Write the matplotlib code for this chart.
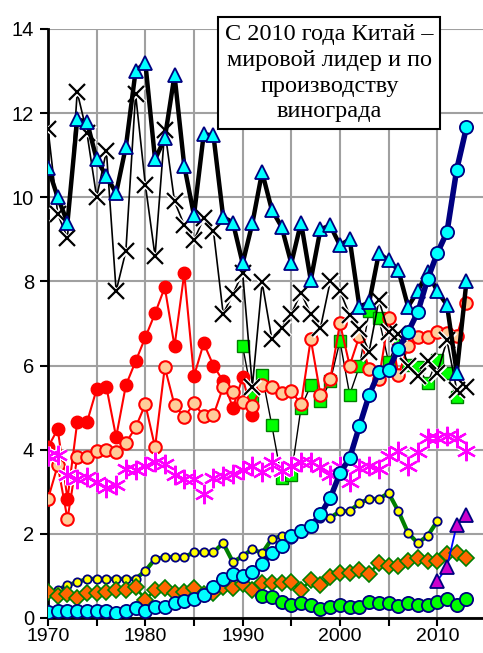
import matplotlib
matplotlib.use("Agg")
import matplotlib.pyplot as plt
from matplotlib.ticker import MultipleLocator

years_all = list(range(1970, 2014))

italy = [10.7, 10.0, 9.4, 11.85, 11.8, 10.9, 10.5, 10.1, 11.2, 13.0,
         13.2, 10.9, 11.4, 12.9, 10.75, 9.57, 11.5, 11.47, 9.53, 9.4,
         8.43, 9.38, 10.6, 9.7, 9.3, 8.43, 9.4, 8.03, 9.24, 9.33,
         8.86, 9.0, 7.4, 7.5, 8.67, 8.5, 8.27, 7.4, 7.77, 8.22,
         7.77, 7.44, 5.83, 8.0]

france = [11.63, 9.6, 9.03, 12.5, 11.53, 10.0, 11.1, 7.77, 8.72, 12.45,
          10.3, 8.6, 11.6, 9.9, 9.34, 8.98, 9.5, 9.2, 7.23, 7.7,
          8.2, 5.5, 7.98, 6.63, 6.9, 7.23, 7.73, 7.23, 6.9, 8.0,
          7.77, 7.2, 6.87, 6.33, 7.55, 6.8, 6.75, 6.0, 5.76, 6.1,
          5.83, 6.6, 5.42, 5.5]

china = [0.14, 0.17, 0.17, 0.17, 0.17, 0.17, 0.17, 0.12, 0.17, 0.24,
         0.17, 0.26, 0.26, 0.36, 0.4, 0.45, 0.55, 0.74, 0.93, 1.05,
         1.0, 1.09, 1.28, 1.54, 1.71, 1.95, 2.07, 2.18, 2.47, 2.85,
         3.44, 3.8, 4.56, 5.3, 5.84, 5.9, 6.4, 6.8, 7.27, 8.05,
         8.67, 9.17, 10.66, 11.66]

years_ussr = list(range(1970, 1992))
ussr = [4.06, 4.49, 2.83, 4.65, 4.65, 5.44, 5.49, 4.3, 5.53, 6.1,
        6.67, 7.24, 7.86, 6.46, 8.19, 5.75, 6.53, 6.0, 5.63, 5.0,
        5.72, 4.82]

usa = [2.83, 3.63, 2.35, 3.82, 3.82, 3.97, 4.0, 3.94, 4.16, 4.53,
       5.08, 4.06, 5.96, 5.06, 4.77, 5.1, 4.8, 4.82, 5.49, 5.37,
       5.13, 5.04, 5.53, 5.5, 5.35, 5.39, 5.08, 6.63, 5.3, 5.67,
       7.0, 6.0, 6.7, 5.91, 5.67, 7.13, 5.77, 6.46, 6.67, 6.67,
       6.79, 6.77, 6.7, 7.48]

years_spain = list(range(1990, 2013))
spain = [6.46, 5.25, 5.77, 4.58, 3.32, 3.41, 5.0, 5.53, 5.15, 5.63,
         6.58, 5.31, 5.98, 7.29, 7.12, 6.08, 6.63, 6.02, 5.97, 5.59,
         6.14, 5.83, 5.25]

turkey = [3.85, 3.87, 3.4, 3.3, 3.35, 3.23, 3.09, 3.16, 3.54, 3.52,
          3.61, 3.7, 3.66, 3.4, 3.3, 3.3, 2.95, 3.33, 3.37, 3.42,
          3.52, 3.61, 3.46, 3.7, 3.49, 3.61, 3.7, 3.7, 3.59, 3.4,
          3.61, 3.23, 3.56, 3.61, 3.54, 3.85, 3.97, 3.61, 3.94, 4.28,
          4.28, 4.32, 4.28, 3.97]

years_iran = list(range(1970, 2011))
iran = [0.6, 0.67, 0.78, 0.85, 0.93, 0.93, 0.93, 0.93, 0.93, 0.93,
        1.12, 1.4, 1.45, 1.45, 1.45, 1.56, 1.56, 1.56, 1.78, 1.33,
        1.47, 1.64, 1.54, 1.88, 1.95, 1.88, 2.02, 2.19, 2.38, 2.38,
        2.54, 2.54, 2.73, 2.83, 2.83, 2.97, 2.54, 2.02, 1.78, 1.95,
        2.3]

years_ukr = list(range(1992, 2014))
ukraine = [0.52, 0.5, 0.38, 0.31, 0.36, 0.31, 0.21, 0.26, 0.31, 0.26,
           0.26, 0.38, 0.36, 0.36, 0.28, 0.36, 0.31, 0.31, 0.38, 0.45,
           0.31, 0.45]

chile = [0.62, 0.52, 0.57, 0.47, 0.59, 0.59, 0.62, 0.67, 0.67, 0.74,
         0.43, 0.67, 0.71, 0.59, 0.62, 0.71, 0.57, 0.59, 0.74, 0.72,
         0.82, 0.67, 0.83, 0.83, 0.83, 0.86, 0.67, 0.9, 0.78, 0.97,
         1.07, 1.07, 1.14, 1.05, 1.31, 1.24, 1.24, 1.35, 1.43, 1.35,
         1.35, 1.52, 1.54, 1.43]

years_india = [2010, 2011, 2012, 2013]
india = [0.88, 1.21, 2.21, 2.45]

note = "С 2010 года Китай –\nмировой лидер и по\nпроизводству\nвинограда"

plt.rcParams['font.family'] = ['Liberation Sans', 'DejaVu Sans']

fig = plt.figure(figsize=(4.83, 6.53), dpi=100)
ax = fig.add_axes([0.0994, 0.0536, 0.9006, 0.902])
ax.set_xlim(1970, 2014.7)
ax.set_ylim(0, 14)

ax.xaxis.set_major_locator(MultipleLocator(10))
ax.xaxis.set_minor_locator(MultipleLocator(5))
ax.yaxis.set_major_locator(MultipleLocator(2))
ax.grid(True, which='both', color='#a0a0a0', lw=1.5, zorder=0)
ax.set_axisbelow(True)
for s in ['top', 'right']:
    ax.spines[s].set_visible(False)
for s in ['left', 'bottom']:
    ax.spines[s].set_linewidth(2)
    ax.spines[s].set_color('black')
ax.tick_params(which='both', direction='out', length=6, width=1.5,
               labelsize=14.5, pad=4)
ax.tick_params(axis='x', pad=1.5, labelsize=14)

# Spain
ax.plot(years_spain, spain, color='black', lw=1, marker='s', ms=9,
        mfc='#00ff00', mec='#008000', mew=1, zorder=3)
# USSR
ax.plot(years_ussr, ussr, color='red', lw=1.5, marker='o', ms=9,
        mfc='red', mec='red', zorder=3)
# USA
ax.plot(years_all, usa, color='red', lw=1.5, marker='o', ms=9,
        mfc='#ffcc99', mec='red', mew=1.5, zorder=3)
# France
ax.plot(years_all, france, color='black', lw=1.2, zorder=4)
ax.plot(years_all, france, ls='none', marker='x', ms=12, mew=3.5,
        color='white', zorder=4)
ax.plot(years_all, france, ls='none', marker='x', ms=12, mew=1.6,
        color='black', zorder=4)
# Turkey
ax.plot(years_all, turkey, ls='none', marker=(6, 2, 0), ms=14, mew=3.5,
        color='white', zorder=4)
ax.plot(years_all, turkey, ls='none', marker=(6, 2, 0), ms=14, mew=1.6,
        color='#ff00ff', zorder=4)
# Italy
ax.plot(years_all, italy, color='black', lw=3.2, marker='^', ms=10,
        mfc='#00ffff', mec='#000080', mew=1.3, zorder=5)
# China
ax.plot(years_all, china, color='#000080', lw=4, marker='o', ms=9.5,
        mfc='#00ffff', mec='#000080', mew=1.3, zorder=6)
# Iran
ax.plot(years_iran, iran, color='#008000', lw=3, marker='o', ms=6,
        mfc='#ffff00', mec='#000080', mew=1.3, zorder=5)
# Chile
ax.plot(years_all, chile, color='#008000', lw=2, marker='D', ms=8,
        mfc='#ff6600', mec='#008000', mew=1.2, zorder=5)
# Ukraine
ax.plot(years_ukr, ukraine, color='#008000', lw=3, marker='o', ms=9.5,
        mfc='#00ff00', mec='#000080', mew=1.3, zorder=5)
# India
ax.plot(years_india, india, color='#0000ff', lw=1.3, marker='^', ms=10,
        mfc='#cc00cc', mec='#000080', mew=1.3, zorder=6)

ax.text(0.682, 0.888, note, transform=fig.transFigure, ha='center', va='center',
        fontsize=17.5, family=['Liberation Serif', 'DejaVu Serif'], linespacing=1.3,
        bbox=dict(boxstyle='square,pad=0.28', fc='white', ec='black', lw=1.5),
        zorder=10)

fig.savefig('out.png', dpi=100)
